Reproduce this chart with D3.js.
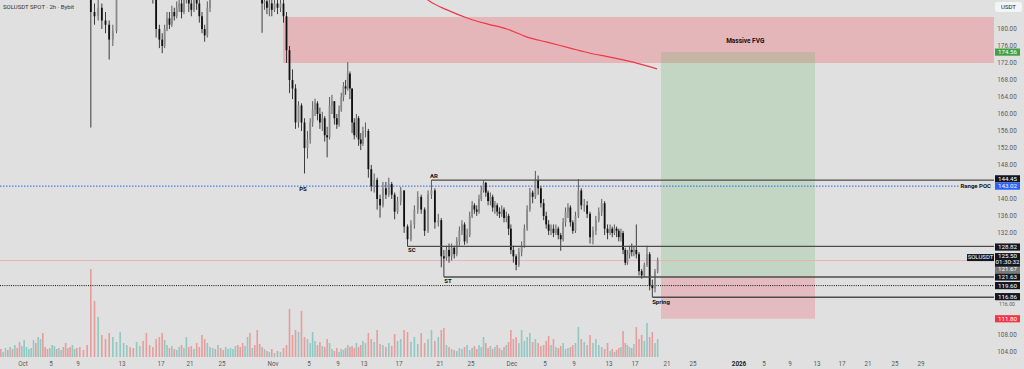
<!DOCTYPE html>
<html>
<head>
<meta charset="utf-8">
<script src="https://cdn.jsdelivr.net/npm/d3@7"></script>
<style>
  body { margin: 0; background: #e0e0e0; overflow: hidden; }
  svg { display: block; font-family: Roboto, "Liberation Sans", Arial, sans-serif; }
</style>
</head>
<body>
<div id="chart"></div>
<script>
/**
 * CONSTANTS
 * */
const width = 1024, height = 369;
const plotRight = 994, paneBottom = 358, volBase = 357;

/**
 * DATA  (SOLUSDT spot, 8h bars, from 2025-09-27 00:00 UTC)
 * */
const startDate = "2025-09-27T00:00";
const firstOpen = 200;

const closes = [
  201,202,200, 203,206,205, 207,206,209, 206,203,208,                 // Sep 27-30
  214,218,220, 224,226,225, 230,232,229, 228,226,228, 231,233,230,     // Oct 1-5
  234,235,232, 228,224,222, 223,226,224, 220,218,216, 184,183,185,     // Oct 6-10
  182,181,177.5, 179.5,188,194, 198,200,199, 196,199,201, 200,197,194, // Oct 11-15
  188,180,177.5, 176,180,182.5, 181,184,183, 185,186,184, 187,189,186, // Oct 16-20
  184.5,187,186, 183,180,178.5, 185,191,194, 193,196,195, 194,195,196, // Oct 21-25
  198,200,202, 200,199,197, 199,200,195, 197,194,192, 190,186,186.5,   // Oct 26-30
  185,186,184.5,                                                       // Oct 31
  186,185,186, 183,175,168, 166,158,162, 158,152,154, 158,161,162.5,   // Nov 1-5
  160,158,159, 155,154.5,162, 163,159,157.5, 161,164,166.5, 166,169.5,166, // Nov 6-10
  158,155,159, 154,153,156, 156,147,143, 144.5,140,138.5, 142.5,141,143.5, // Nov 11-15
  141,137,139.5, 142,133.5,130.5, 134,137.5,140.5, 137.5,132.5,141, 142,134.5,135, // Nov 16-20
  126.5,126,128, 126.5,128.5,127, 130,132.5,134, 130,131.5,136, 138.5,137.5,137, // Nov 21-25
  140,142,143.8, 141.5,139.5,140.5, 138,138.5,137, 136.5,137.5,135.5, 136,133,128, // Nov 26-30
  126.5,124.5,127.5, 129,133,137.5, 141.5,140.5,144.5, 142.5,139,136, 134,132.5,133, // Dec 1-5
  132,133,131.5, 130.5,134.5,137, 138,134.5,132.5, 136,142,138.5, 138.5,136.5,131, // Dec 6-10
  132.5,135,137, 139,133,132, 133,132,133, 132.5,131,132, 128,125,127,  // Dec 11-15
  128,127.5,128, 127,123,122, 124.5,127,119.5, 119,123,125.5            // Dec 16-19
];

const highs = [
  203,204,203, 205,208,208, 209,209,211, 210,207,210,
  216,220,223, 226,229,228, 233,235,233, 231,230,230, 234,236,235,
  236,238,236, 233,229,226, 226,229,228, 225,222,220, 219,186,187,
  186,184,182, 181,190,196, 200,203,202, 201,201,204, 204,202,199,
  195,189,181, 179,181,184, 184,185.5,185, 186.5,188,187, 189,191,190,
  187,189,188.5, 187,184,181, 186.5,193,196, 197,199,198, 197,198,198,
  200,203,204, 204,202,201, 201,203,201, 199,198,196, 194,191,189,
  188,187.5,187,
  187.5,187,187.5, 187,184,176, 170.5,167,163, 162.5,159,156, 159,163,163.6,
  163,161.5,160.5, 159.5,157,164, 164.5,163,160, 162,165,167.5, 168,172.2,170,
  166,159,160, 159.5,155.5,157, 158,156.5,148, 146,145,141, 144,144,145,
  144,141.5,140.5, 142.8,142,134, 135,138.5,141.8, 141,138,142, 144.45,142.5,136.5,
  135.5,128,129, 129.5,129.5,129, 131,133.5,135, 134.5,133,137, 139.5,139,138.5,
  141,143,144.3, 144,142,141.5, 141,139.5,139, 138,138.5,138, 137,136.5,134,
  129,127,128.5, 130,134,138.5, 142.6,142,146.6, 145.5,143,140, 137,135,134,
  134,134,133.5, 132,135.5,138, 139,138.5,135, 137,144.7,142.5, 140,139.5,137,
  133.5,136,138, 140,139.5,134, 134,133.5,134, 133.5,133,133, 132.5,128.5,128,
  129,129.5,129, 134,127.5,123.5, 125,129,127.5, 121,123.5,126.2
];

const lows = [
  199,200,199, 199,202,203, 204,203,205, 203,200,202,
  207,212,216, 219,222,222, 224,228,226, 225,223,224, 226,228,228,
  229,231,229, 224,220,219, 218,221,221, 217,214,212, 156.8,181,182,
  180,179,172.8, 176,179,187.5, 192,196,196, 192,194,197, 196,195,191,
  186,178,175.5, 174.3,175.5,179.5, 180,180.5,182, 182.5,184,182.5, 183.5,186,184,
  183,184,184.5, 181.5,179,177, 178,184,189, 190,192,192, 191,192,193,
  194,197,198, 197,196,194, 195,197,192, 193,191,189.5, 188,179.1,184.5,
  183.5,183,183,
  184,183.5,184, 181.5,172,164.9, 163.5,156.5,156.8, 156,146,149.5, 153,157,159.5,
  158.5,156.5,156, 153.5,149.8,154, 160,157.5,156.5, 157,160.5,163, 164.5,165.5,163.5,
  155.5,154,154.5, 152.5,151.5,152.5, 154.5,145,141.8, 141.5,137.5,135.6, 138,140,140.5,
  140,135.2,136.5, 138.5,132,128.82, 130,133,136.5, 136.5,131.3,132, 140,133,133.5,
  123.9,121.63,125.5, 125,125.5,126, 126.5,129,131.5, 129.2,129.5,131, 135.5,136.5,136,
  136.5,139.5,141.5, 140.5,138.5,138.5, 137,136.5,136, 135.5,135.8,134.5, 134.5,131.5,127,
  125,123.2,124, 126.5,128.5,132.5, 137,139,140, 141,138,135, 133,131.5,131.5,
  131,131.5,130.5, 127.8,130,133.5, 135.5,133.5,131.8, 132,135.5,137.5, 137,135.5,129.5,
  129.3,131.5,134.5, 136,131.5,130.5, 131.5,131,131.5, 131,130,130, 127,124.4,124.5,
  126,126.5,126.5, 126,122,121.2, 121.5,124,118.5, 116.86,118,122.5
];

// volume, thousand SOL per bar
const volumes = [
  60,40,80, 50,90,70, 100,80,120, 90,150,110,
  170,100,80, 90,170,140, 200,180,240, 100,80,90, 120,110,80,
  90,70,100, 140,90,100, 120,80,90, 100,70,120, 880,560,400,
  220,180,240, 200,150,250, 140,120,100, 90,150,110, 160,240,120,
  100,180,200, 240,170,120, 90,110,80, 70,100,120, 90,200,100,
  110,80,140, 100,220,180, 140,100,90, 80,120,90, 70,100,80,
  90,80,110, 120,100,140, 110,200,240, 90,120,270, 130,100,80,
  60,50,80,
  40,60,50, 90,120,480, 220,270,250, 460,200,180, 140,250,160,
  120,150,110, 100,180,140, 80,60,90, 50,80,70, 90,120,100,
  110,90,140, 100,120,160, 140,240,180, 150,270,130, 120,100,140,
  110,230,160, 180,270,250, 150,200,130, 240,140,180, 270,160,200,
  270,290,120, 100,80,70, 60,90,80, 100,120,70, 90,110,80,
  120,100,200, 140,90,110, 80,100,120, 90,70,100, 120,150,270,
  180,200,140, 270,160,200, 240,150,180, 140,110,120, 160,210,120,
  180,100,90, 110,140,80, 90,100,120, 140,300,180, 150,120,220,
  140,180,120, 100,80,140, 60,80,50, 70,90,100, 260,140,120,
  100,90,130, 300,180,220, 160,340,200, 250,140,180
];

// moving average (red line)
const maDates = ["2025-11-19T01:00","2025-11-19T20:00","2025-11-21T22:00","2025-11-24T12:00",
  "2025-11-27T08:00","2025-11-30T06:00","2025-12-02T20:00","2025-12-05T07:00","2025-12-08T11:00",
  "2025-12-10T20:00","2025-12-13T04:00","2025-12-16T17:00","2025-12-19T18:00"];
const maValues = [188.5,186.8,184.5,182.6,181.2,180.0,178.1,176.9,175.5,174.3,173.4,172.2,170.6];

// time axis
const tickDates = ["2025-10-01","2025-10-05","2025-10-09","2025-10-13","2025-10-17","2025-10-21","2025-10-25",
  "2025-11-01","2025-11-05","2025-11-09","2025-11-13","2025-11-17","2025-11-21","2025-11-25",
  "2025-12-01","2025-12-05","2025-12-09","2025-12-13","2025-12-17","2025-12-21","2025-12-25",
  "2026-01-01","2026-01-05","2026-01-09","2026-01-13","2026-01-17","2026-01-21","2026-01-25","2026-01-29"];
const tickLabels = ["Oct","5","9","13","17","21","25","Nov","5","9","13","17","21","25",
  "Dec","5","9","13","17","21","25","2026","5","9","13","17","21","25","29"];
const priceTicks = [180,176,172,168,164,160,156,152,148,140,136,132,116,108,104];

// drawings
const fvgStart = "2025-11-02T03:00", fvgTop = 182.83, fvgBottom = 172.0;
const posStart = "2025-12-20T06:00", posEnd = "2026-01-12T17:00";
const posTarget = 174.56, posEntry = 121.67, posStop = 111.80;
const rayPrices = [144.45, 128.82, 121.63, 116.86];
const rayFrom = ["2025-11-20T04:00","2025-11-17T20:00","2025-11-21T12:00","2025-12-19T04:00"];
const pocPrice = 143.02, stopLevel = 119.60, lastPrice = 125.50;
const phaseText = ["PS","SC","AR","ST","Spring"];
const phaseDates = ["2025-11-04T08:00","2025-11-18T06:00","2025-11-20T10:00","2025-11-22T01:00","2025-12-20T06:00"];
const phasePrices = [142.2, 127.8, 145.4, 120.6, 115.6];

/**
 * SCALES
 * */
const parse = s => new Date(s.length === 10 ? s + "T00:00:00Z" : s + ":00Z");
// TradingView spaces the days unevenly, so the time scale is piecewise
const knotDates = ["2025-09-27", ...tickDates, "2026-02-02"].map(parse);
const knotPx = [-5,23,51,78,122,161,190,222,273,309,338,364,399,440,471,
  512,545,574,609,635,667,693,739,764,790,817,842,868,895,921,947];
const x = d3.scaleUtc().domain(knotDates).range(knotPx);
const y = d3.scaleLinear().domain([104, 180]).range([351.9, 29]);
const yVol = d3.scaleLinear().domain([0, 880]).range([volBase, volBase - 88]);

const H8 = 8 * 3600 * 1000;
const t0 = parse(startDate);
const bars = closes.map((c, i) => ({
  t: new Date(+t0 + i * H8 + H8 / 2),
  o: i ? closes[i - 1] : firstOpen,
  h: highs[i], l: lows[i], c: c, v: volumes[i]
}));

/**
 * DRAW
 * */
const svg = d3.select("#chart").append("svg")
  .attr("width", width).attr("height", height);

svg.append("rect").attr("width", width).attr("height", height).attr("fill", "#e0e0e0");

svg.append("clipPath").attr("id", "pane")
  .append("rect").attr("x", 0).attr("y", 0).attr("width", plotRight).attr("height", paneBottom);

const pane = svg.append("g").attr("clip-path", "url(#pane)");

// FVG zone
pane.append("rect")
  .attr("x", x(parse(fvgStart))).attr("y", y(fvgTop))
  .attr("width", plotRight - x(parse(fvgStart)))
  .attr("height", y(fvgBottom) - y(fvgTop))
  .attr("fill", "rgba(242,54,69,0.25)");

// long position box
const px0 = x(parse(posStart)), px1 = x(parse(posEnd));
pane.append("rect")
  .attr("x", px0).attr("y", y(posTarget)).attr("width", px1 - px0)
  .attr("height", y(posEntry) - y(posTarget))
  .attr("fill", "rgba(76,175,80,0.2)");
pane.append("rect")
  .attr("x", px0).attr("y", y(posEntry)).attr("width", px1 - px0)
  .attr("height", y(posStop) - y(posEntry))
  .attr("fill", "rgba(242,54,69,0.22)");

// volume
pane.selectAll("rect.vol")
  .data(bars)
  .join("rect")
  .attr("class", "vol")
  .attr("x", d => x(d.t) - 0.8)
  .attr("width", 1.6)
  .attr("y", d => yVol(d.v))
  .attr("height", d => volBase - yVol(d.v))
  .attr("fill", d => d.c >= d.o ? "rgba(38,166,154,0.42)" : "rgba(239,83,80,0.48)");

// current price line and horizontal levels
pane.append("line")
  .attr("x1", 0).attr("x2", plotRight)
  .attr("y1", y(lastPrice)).attr("y2", y(lastPrice))
  .attr("stroke", "#ebb3b3").attr("stroke-width", 1);
pane.append("line")
  .attr("x1", 0).attr("x2", plotRight)
  .attr("y1", y(stopLevel)).attr("y2", y(stopLevel))
  .attr("stroke", "#111").attr("stroke-width", 1).attr("stroke-dasharray", "1,1.2");
pane.append("line")
  .attr("x1", 0).attr("x2", 960)
  .attr("y1", y(pocPrice)).attr("y2", y(pocPrice))
  .attr("stroke", "#2962ff").attr("stroke-width", 1).attr("stroke-dasharray", "1.5,1.5");

// candles
const candle = pane.selectAll("g.candle")
  .data(bars)
  .join("g")
  .attr("class", "candle");
candle.append("line")
  .attr("x1", d => x(d.t)).attr("x2", d => x(d.t))
  .attr("y1", d => y(d.h)).attr("y2", d => y(d.l))
  .attr("stroke", d => d.c >= d.o ? "#3a3a3a" : "#111")
  .attr("stroke-width", 0.8);
candle.append("rect")
  .attr("x", d => x(d.t) - 0.9)
  .attr("width", 1.8)
  .attr("y", d => y(Math.max(d.o, d.c)))
  .attr("height", d => Math.max(0.8, Math.abs(y(d.o) - y(d.c))))
  .attr("fill", d => d.c >= d.o ? "#8a8a8a" : "#111");

// moving average
pane.append("path")
  .datum(maDates.map((d, i) => [parse(d), maValues[i]]))
  .attr("fill", "none")
  .attr("stroke", "#f23645")
  .attr("stroke-width", 1.2)
  .attr("d", d3.line().x(d => x(d[0])).y(d => y(d[1])).curve(d3.curveMonotoneX));

// rays from the range pivots
pane.selectAll("line.ray")
  .data(rayPrices)
  .join("line")
  .attr("class", "ray")
  .attr("x1", (d, i) => x(parse(rayFrom[i]))).attr("x2", plotRight)
  .attr("y1", d => y(d)).attr("y2", d => y(d))
  .attr("stroke", "#4d4d4d").attr("stroke-width", 1.3);

// wyckoff labels
svg.selectAll("text.phase")
  .data(phaseText)
  .join("text")
  .attr("class", "phase")
  .attr("x", (d, i) => x(parse(phaseDates[i])))
  .attr("y", (d, i) => y(phasePrices[i]))
  .attr("text-anchor", "middle")
  .attr("dominant-baseline", "middle")
  .attr("font-size", 6)
  .attr("font-weight", "bold")
  .attr("fill", "#111")
  .text(d => d);

svg.append("text")
  .attr("x", x(parse("2026-01-02")))
  .attr("y", y(177.2))
  .attr("text-anchor", "middle").attr("dominant-baseline", "middle")
  .attr("font-size", 6.5).attr("font-weight", "bold").attr("fill", "#111")
  .text("Massive FVG");

svg.append("text")
  .attr("x", 991).attr("y", y(pocPrice))
  .attr("text-anchor", "end").attr("dominant-baseline", "middle")
  .attr("font-size", 6).attr("font-weight", "bold").attr("fill", "#111")
  .text("Range POC");

// title
svg.append("text")
  .attr("x", 3).attr("y", 7)
  .attr("dominant-baseline", "middle")
  .attr("font-size", 6).attr("fill", "#333")
  .text("SOLUSDT SPOT · 2h · Bybit");

// price axis (116 sits mostly under the 116.86 tag, only its lower edge peeks out)
svg.selectAll("text.ptick")
  .data(priceTicks)
  .join("text")
  .attr("class", "ptick")
  .attr("x", 1007).attr("y", d => y(d) + (d === 116 ? 3.6 : 0))
  .attr("text-anchor", "middle").attr("dominant-baseline", "middle")
  .attr("font-size", d => d === 116 ? 5.2 : 6.3).attr("fill", "#5a5a5a")
  .text(d => d3.format(".2f")(d));

const usdt = svg.append("g");
usdt.append("rect").attr("x", 995).attr("y", 2).attr("width", 27).attr("height", 10)
  .attr("rx", 2).attr("fill", "#f4f4f4");
usdt.append("text").attr("x", 1008.5).attr("y", 7.3)
  .attr("text-anchor", "middle").attr("dominant-baseline", "middle")
  .attr("font-size", 6).attr("fill", "#222").text("USDT");

// price tags on the axis
const tagPrices = [174.56, 144.45, 143.02, 128.82, 121.67, 121.63, 119.60, 116.86, 111.80];
const tagColors = ["#43a047", "#131722", "#2962ff", "#131722", "#7a7a7a", "#131722", "#131722", "#131722", "#f23645"];
const tagShift = [0, -1.2, 0, 0.6, -7.4, 0, 0, -0.6, 0];
const tags = svg.selectAll("g.tag")
  .data(tagPrices)
  .join("g")
  .attr("class", "tag")
  .attr("transform", (d, i) => `translate(995, ${y(d) + tagShift[i]})`);
tags.append("rect")
  .attr("x", 0).attr("y", -3.6).attr("width", 25).attr("height", 7.2)
  .attr("fill", (d, i) => tagColors[i]);
tags.append("text")
  .attr("x", 12.5).attr("y", 0.3)
  .attr("text-anchor", "middle").attr("dominant-baseline", "middle")
  .attr("font-size", 6.2).attr("fill", "#fff")
  .text(d => d3.format(".2f")(d));

// last price tag with countdown, and symbol tag
const lastY = y(lastPrice);
svg.append("rect").attr("x", 995).attr("y", lastY - 7.5).attr("width", 25).attr("height", 13.5)
  .attr("fill", "#131722");
svg.append("text").attr("x", 1007.5).attr("y", lastY - 4)
  .attr("text-anchor", "middle").attr("dominant-baseline", "middle")
  .attr("font-size", 6.2).attr("fill", "#fff").text(d3.format(".2f")(lastPrice));
svg.append("text").attr("x", 1007.5).attr("y", lastY + 2)
  .attr("text-anchor", "middle").attr("dominant-baseline", "middle")
  .attr("font-size", 6.2).attr("fill", "#fff").text("01:30:32");
svg.append("rect").attr("x", 967).attr("y", lastY - 6.5).attr("width", 27).attr("height", 7)
  .attr("fill", "#131722");
svg.append("text").attr("x", 980.5).attr("y", lastY - 2.8)
  .attr("text-anchor", "middle").attr("dominant-baseline", "middle")
  .attr("font-size", 6).attr("fill", "#fff").text("SOLUSDT");

// time axis
svg.selectAll("text.ttick")
  .data(tickLabels)
  .join("text")
  .attr("class", "ttick")
  .attr("x", (d, i) => x(parse(tickDates[i])))
  .attr("y", 364)
  .attr("text-anchor", "middle").attr("dominant-baseline", "middle")
  .attr("font-size", 6.3)
  .attr("font-weight", d => d === "2026" ? "bold" : "normal")
  .attr("fill", d => d === "2026" ? "#222" : "#5a5a5a")
  .text(d => d);
</script>
</body>
</html>
